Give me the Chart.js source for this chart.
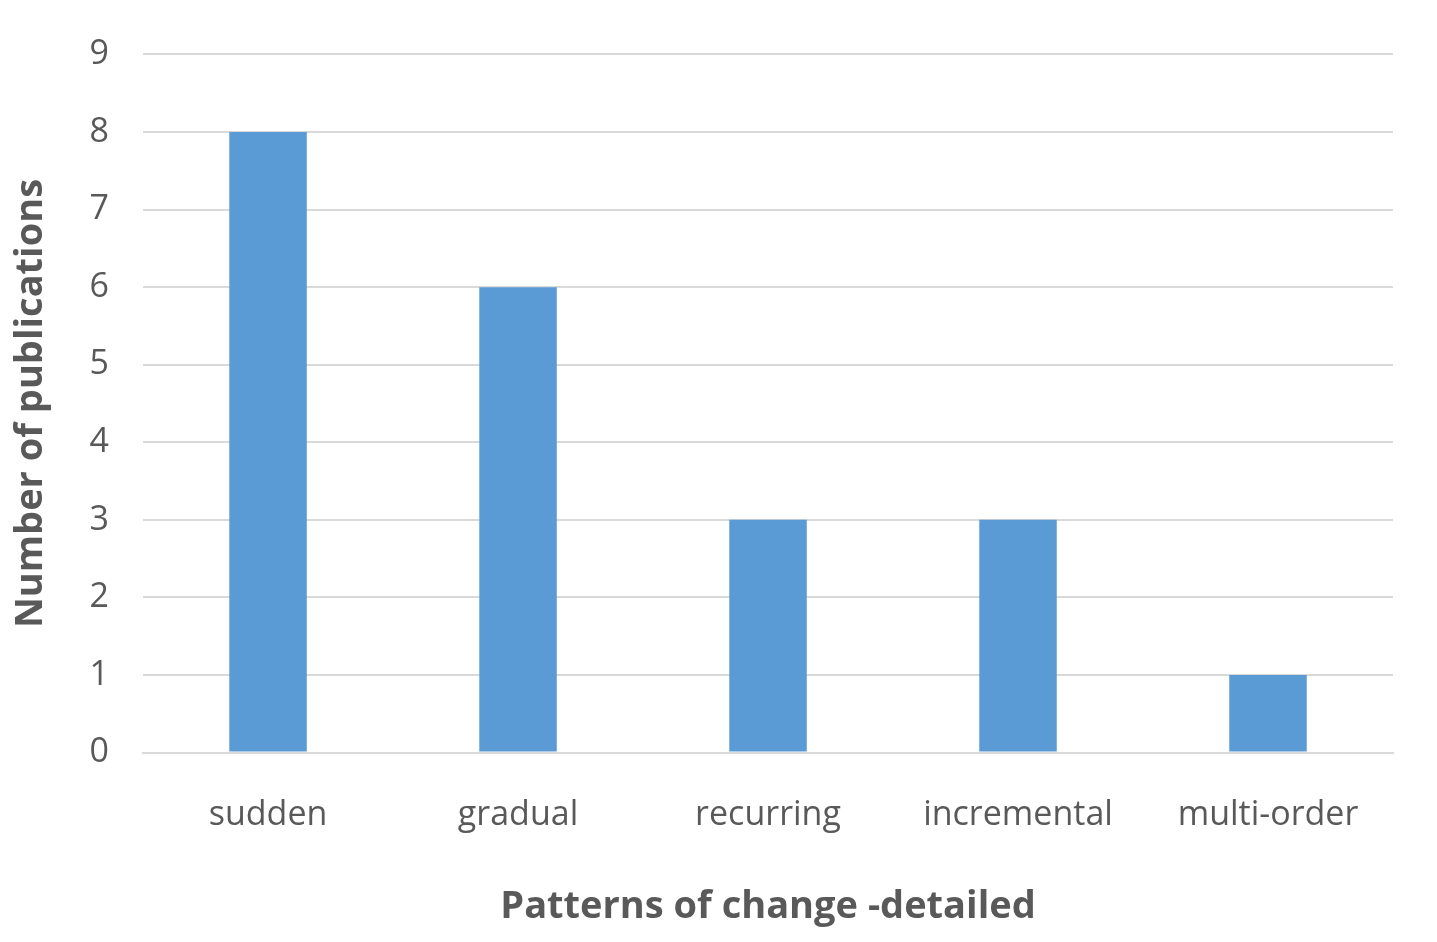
<!DOCTYPE html>
<html><head><style>html,body{margin:0;padding:0;background:#fff}#w{width:1437px;height:942px}</style>
<script src="https://cdn.jsdelivr.net/npm/chart.js@4/dist/chart.umd.min.js"></script></head>
<body><div id="w"><canvas id="c"></canvas></div>
<script>
const categories=["sudden","gradual","recurring","incremental","multi-order"];
const values=[8,6,3,3,1];
const xTitle="Patterns of change -detailed";
const yTitle="Number of publications";
new Chart(document.getElementById('c'),{type:'bar',
data:{labels:categories,datasets:[{data:values,backgroundColor:'#5b9bd5',barPercentage:0.62,categoryPercentage:0.5}]},
options:{responsive:true,maintainAspectRatio:false,animation:false,
layout:{padding:{left:4,right:44,top:4,bottom:8}},
plugins:{legend:{display:false},tooltip:{enabled:false}},
scales:{
x:{grid:{display:false},border:{color:'#d9d9d9',width:2},
ticks:{color:'#595959',font:{family:'Open Sans',size:34},padding:34},
title:{display:true,text:xTitle,color:'#595959',font:{family:'Open Sans',size:38,weight:'bold'},padding:{top:15}}},
y:{min:0,max:9,grid:{color:'#d9d9d9',lineWidth:2,drawTicks:false},border:{display:false},
ticks:{stepSize:1,color:'#595959',font:{family:'Open Sans',size:34},padding:34},
title:{display:true,text:yTitle,color:'#595959',font:{family:'Open Sans',size:38,weight:'bold'},padding:{bottom:2}}}
}}});
</script></body></html>
